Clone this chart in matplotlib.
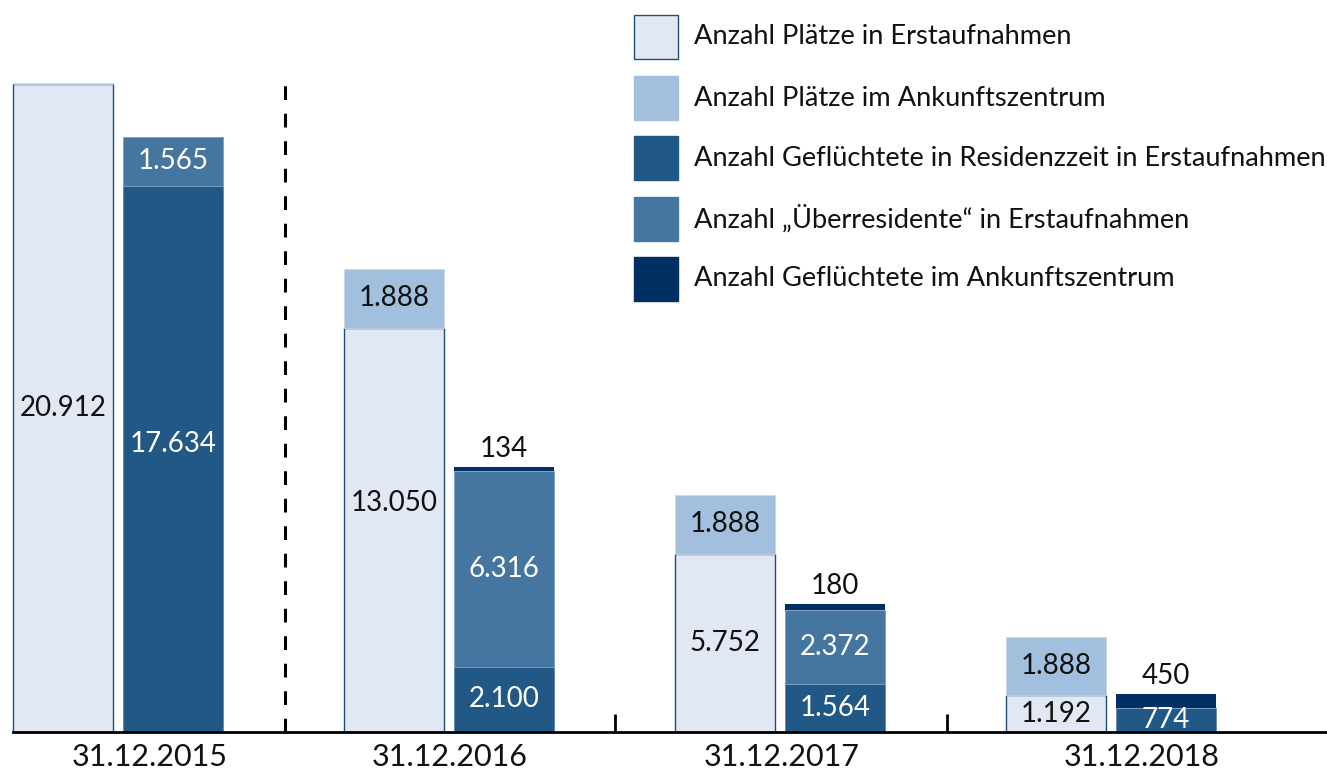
import matplotlib
matplotlib.use("Agg")
import matplotlib.pyplot as plt
from matplotlib.patches import Rectangle

plt.rcParams["font.family"] = ["Lato", "DejaVu Sans"]

# Daten
dates = ["31.12.2015", "31.12.2016", "31.12.2017", "31.12.2018"]
plaetze_ea = [20912, 13050, 5752, 1192]
plaetze_az = [0, 1888, 1888, 1888]
residenz = [17634, 2100, 1564, 774]
ueberres = [1565, 6316, 2372, 0]
gefl_az = [0, 134, 180, 450]

labels = [
    "Anzahl Plätze in Erstaufnahmen",
    "Anzahl Plätze im Ankunftszentrum",
    "Anzahl Geflüchtete in Residenzzeit in Erstaufnahmen",
    "Anzahl \u201eÜberresidente\u201c in Erstaufnahmen",
    "Anzahl Geflüchtete im Ankunftszentrum",
]
colors = ["#e1e8f4", "#a2bfdd", "#225886", "#44769f", "#003063"]
edge = "#1f4e79"

def fmt(v):
    return f"{v:,}".replace(",", ".")

fig = plt.figure(figsize=(13.27, 7.69), dpi=100)
ax = fig.add_axes([0, 37 / 769, 1, 732 / 769])
ax.set_xlim(0, 1327)
ax.set_ylim(0, 23620)

step = 331
w = 100
x1 = [13 + step * i for i in range(4)]
x2 = [x + 110 for x in x1]

# linke Säule: Plätze
ax.bar(x1, plaetze_ea, width=w, align="edge", color=colors[0], edgecolor=edge, lw=1)
ax.bar(x1, plaetze_az, width=w, align="edge", bottom=plaetze_ea, color=colors[1],
       edgecolor="#c9d8ea", lw=0.6)

# rechte Säule: Geflüchtete
b2 = [r + u for r, u in zip(residenz, ueberres)]
ax.bar(x2, residenz, width=w, align="edge", color=colors[2], edgecolor="#5f86ab", lw=0.6)
ax.bar(x2, ueberres, width=w, align="edge", bottom=residenz, color=colors[3],
       edgecolor="#7fa0c0", lw=0.6)
ax.bar(x2, gefl_az, width=w, align="edge", bottom=b2, color=colors[4], lw=0)

fs = 20
# Beschriftungen
for i in range(4):
    cx1 = x1[i] + w / 2
    cx2 = x2[i] + w / 2
    yoff1 = 0
    if i == 1:
        yoff1 = 850
    ax.text(cx1, plaetze_ea[i] / 2 + yoff1, fmt(plaetze_ea[i]), ha="center", va="center",
            fontsize=fs, color="#111111")
    if plaetze_az[i]:
        ax.text(cx1, plaetze_ea[i] + plaetze_az[i] / 2, fmt(plaetze_az[i]), ha="center",
                va="center", fontsize=fs, color="#111111")
    yoff2 = 480 if i == 0 else 0
    ax.text(cx2, residenz[i] / 2 + yoff2, fmt(residenz[i]), ha="center", va="center",
            fontsize=fs, color="white")
    if ueberres[i]:
        ax.text(cx2, residenz[i] + ueberres[i] / 2, fmt(ueberres[i]), ha="center",
                va="center", fontsize=fs, color="white")
    if gefl_az[i]:
        ax.text(cx2, b2[i] + gefl_az[i] + 580, fmt(gefl_az[i]), ha="center",
                va="center", fontsize=fs, color="#111111")

# Datumsbeschriftung
label_x = [150, 450, 782, 1142]
for lx, d in zip(label_x, dates):
    ax.text(lx, -820, d, ha="center", va="center", fontsize=22, color="#111111",
            clip_on=False)

# Achse
for s in ["top", "right", "left"]:
    ax.spines[s].set_visible(False)
ax.spines["bottom"].set_bounds(13, 1327)
ax.spines["bottom"].set_linewidth(2)
ax.set_yticks([])
ax.set_xticks([615, 947])
ax.set_xticklabels([])
ax.tick_params(axis="x", direction="in", length=13, width=2)

# Trennlinie
ax.plot([285, 285], [0, 20950], color="black", lw=2.2, ls=(0, (4.5, 4.5)))

# Legende
leg_top = [15, 76, 136, 197, 257]
for t, lab, c in zip(leg_top, labels, colors):
    ec = edge if c == colors[0] else c
    fig.patches.append(Rectangle((634 / 1327, 1 - (t + 44) / 769), 44 / 1327, 44 / 769,
                                 transform=fig.transFigure, facecolor=c, edgecolor=ec,
                                 lw=1))
    fig.text(694 / 1327, 1 - (t + 22) / 769, lab, ha="left", va="center", fontsize=19.6,
             color="#111111")

fig.savefig("out.png", dpi=100)
